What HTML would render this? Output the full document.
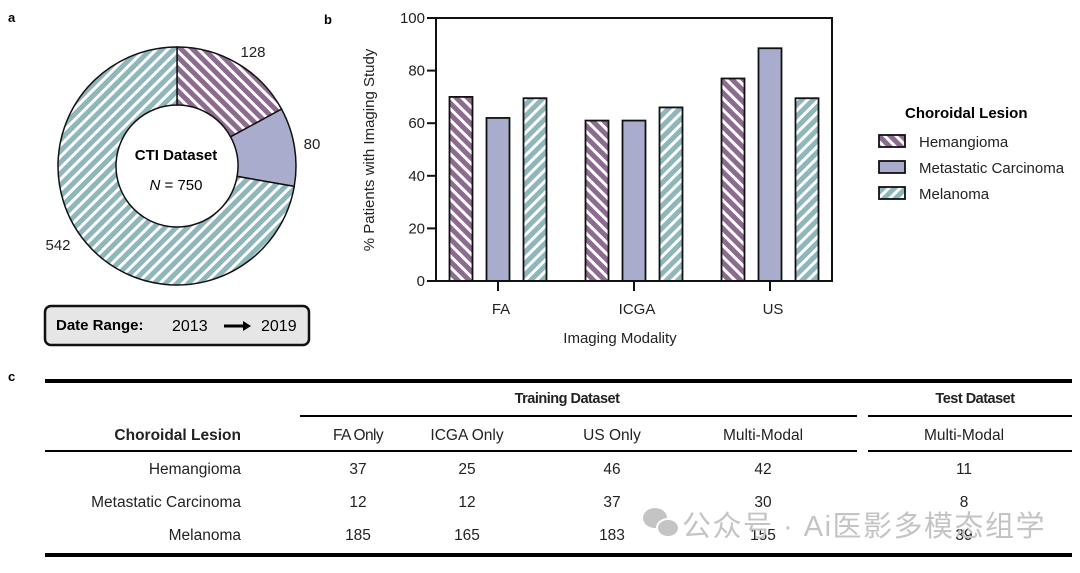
<!DOCTYPE html>
<html><head><meta charset="utf-8"><style>
body{margin:0;background:#fff;width:1080px;height:568px;overflow:hidden;font-family:"Liberation Sans",Arial,sans-serif}
</style></head><body>
<svg width="1080" height="568" xmlns="http://www.w3.org/2000/svg" font-family="Liberation Sans, Noto Sans CJK SC, sans-serif">
<defs>
<pattern id="hemP" patternUnits="userSpaceOnUse" width="8" height="8" patternTransform="rotate(-45)">
<rect width="8" height="8" fill="#8d6a8f"/><rect width="3" height="8" fill="#fff"/></pattern>
<pattern id="melP" patternUnits="userSpaceOnUse" width="8" height="8" patternTransform="rotate(45)">
<rect width="8" height="8" fill="#8fb6ba"/><rect width="3" height="8" fill="#fff"/></pattern>
</defs>
<text x="8" y="22" font-size="13" font-weight="bold">a</text>
<text x="324" y="24" font-size="13" font-weight="bold">b</text>
<text x="8" y="381" font-size="13" font-weight="bold">c</text>
<g id="donut"></g>
<text x="176" y="160" font-size="15" font-weight="bold" text-anchor="middle">CTI Dataset</text>
<text x="176" y="190" font-size="15" text-anchor="middle"><tspan font-style="italic">N</tspan> = 750</text>
<g>
<rect x="45" y="306" width="264" height="39" rx="6" fill="#e6e6e6" stroke="#111" stroke-width="2.5"/>
<text x="56" y="330" font-size="15" font-weight="bold">Date Range:</text>
<text x="172" y="331" font-size="16">2013</text>
<line x1="224" y1="326" x2="244" y2="326" stroke="#000" stroke-width="3"/>
<polygon points="243,321 251,326 243,331" fill="#000"/>
<text x="261" y="331" font-size="16">2019</text>
</g>
<g id="bars"></g>
<g>
<text x="905" y="118" font-size="15" font-weight="bold">Choroidal Lesion</text>
<rect x="879" y="135" width="26" height="12" fill="url(#hemP)" stroke="#111" stroke-width="1.8"/>
<text x="919" y="147" font-size="15" fill="#222">Hemangioma</text>
<rect x="879" y="161" width="26" height="12" fill="#aaaccd" stroke="#111" stroke-width="1.8"/>
<text x="919" y="173" font-size="15" fill="#222">Metastatic Carcinoma</text>
<rect x="879" y="187" width="26" height="12" fill="url(#melP)" stroke="#111" stroke-width="1.8"/>
<text x="919" y="199" font-size="15" fill="#222">Melanoma</text>
</g>
<g font-size="15.5" fill="#222">
<rect x="45" y="379" width="1027" height="4" fill="#000"/>
<text x="567" y="403" text-anchor="middle" font-weight="bold" font-size="14.5" letter-spacing="-0.5">Training Dataset</text>
<text x="975" y="403" text-anchor="middle" font-weight="bold" font-size="14.5" letter-spacing="-0.5">Test Dataset</text>
<rect x="300" y="415" width="557" height="2" fill="#000"/>
<rect x="868" y="415" width="204" height="2" fill="#000"/>
<text x="241" y="440" text-anchor="end" font-weight="bold">Choroidal Lesion</text>
<text x="358" y="440" text-anchor="middle" letter-spacing="-0.6">FA Only</text>
<text x="467" y="440" text-anchor="middle">ICGA Only</text>
<text x="612" y="440" text-anchor="middle">US Only</text>
<text x="763" y="440" text-anchor="middle">Multi-Modal</text>
<text x="964" y="440" text-anchor="middle">Multi-Modal</text>
<rect x="45" y="450" width="812" height="2" fill="#000"/>
<rect x="868" y="450" width="204" height="2" fill="#000"/>
<g id="rows"></g>
<rect x="45" y="553" width="1027" height="4" fill="#000"/>
</g>
<g fill="#c4c4c4">
<ellipse cx="655" cy="518" rx="12" ry="10"/>
<ellipse cx="668" cy="528" rx="11" ry="9" stroke="#fff" stroke-width="2"/>
<text x="682" y="536" font-size="29" letter-spacing="1.5">公众号 · Ai医影多模态组学</text>
</g>
</svg>
<script>
const NS="http://www.w3.org/2000/svg";
// donut data
const donutLabels=["Hemangioma","Metastatic Carcinoma","Melanoma"];
const donutValues=[128,80,542];
// bar data
const barCategories=["FA","ICGA","US"];
const hemValues=[70,61,77];
const metValues=[62,61,88.5];
const melValues=[69.5,66,69.5];
const yTicks=[0,20,40,60,80,100];
// table data
const tableRows=["Hemangioma","Metastatic Carcinoma","Melanoma"];
const faOnly=[37,12,185];
const icgaOnly=[25,12,165];
const usOnly=[46,37,183];
const multiModal=[42,30,155];
const testMulti=[11,8,39];

function mk(tag,attrs,parent){const e=document.createElementNS(NS,tag);for(const k in attrs)e.setAttribute(k,attrs[k]);parent.appendChild(e);return e;}
const fills=["url(#hemP)","#aaaccd","url(#melP)"];

// donut
(function(){
const g=document.getElementById('donut');const cx=177,cy=166,R=119,r=61;
const tot=donutValues.reduce((a,b)=>a+b,0);let a0=0;
donutValues.forEach((v,i)=>{
 const a1=a0+v/tot*2*Math.PI;
 const p=(rad,a)=>[cx+rad*Math.sin(a),cy-rad*Math.cos(a)];
 const large=(a1-a0)>Math.PI?1:0;
 const [x1,y1]=p(R,a0),[x2,y2]=p(R,a1),[x3,y3]=p(r,a1),[x4,y4]=p(r,a0);
 const e=mk('path',{d:`M${x1},${y1}A${R},${R} 0 ${large} 1 ${x2},${y2}L${x3},${y3}A${r},${r} 0 ${large} 0 ${x4},${y4}Z`,fill:fills[i],stroke:'#111','stroke-width':1.5},g);
 
 
 const am=(a0+a1)/2;const lr=R+(i==2?20:18);
 let [lx,ly]=p(lr,am);
 if(i==0){lx=253;ly=57;} if(i==2){lx=58;ly=250;} if(i==1){lx=312;ly=149;}
 const t=mk('text',{x:lx,y:ly,'font-size':15,'text-anchor':'middle',fill:'#222'},g);t.textContent=v;
 
 
 a0=a1;});
})();

// bars
(function(){
const g=document.getElementById('bars');
const x0=436,x1=832,y0=281,y1=18;
const y=v=>y0-(v/100)*(y0-y1);
const centers=[498,634,770];const bw=23,gap=37;
mk('polyline',{points:`${x0},${y1} ${x1},${y1} ${x1},${y0}`,fill:'none',stroke:'#111','stroke-width':2},g);
const series=[hemValues,metValues,melValues];
barCategories.forEach((c,ci)=>{
 series.forEach((s,si)=>{
  const cxb=centers[ci]+(si-1)*gap;
  const b=mk('rect',{x:cxb-bw/2,y:y(s[ci]),width:bw,height:y0-y(s[ci]),fill:fills[si],stroke:'#111','stroke-width':1.8},g);
  
  
 });
 mk('line',{x1:centers[ci],y1:y0,x2:centers[ci],y2:y0+10,stroke:'#111','stroke-width':2},g);
 const t=mk('text',{x:centers[ci]+3,y:y0+33,'font-size':15,'text-anchor':'middle',fill:'#222'},g);t.textContent=c;
 
 
});
mk('line',{x1:x0,y1:y1-1,x2:x0,y2:y0+1,stroke:'#111','stroke-width':2},g);
mk('line',{x1:x0-1,y1:y0,x2:x1+1,y2:y0,stroke:'#111','stroke-width':2},g);
yTicks.forEach(v=>{
 mk('line',{x1:x0-9,y1:y(v),x2:x0,y2:y(v),stroke:'#111','stroke-width':2},g);
 const t=mk('text',{x:x0-11,y:y(v)+5,'font-size':15,'text-anchor':'end',fill:'#222'},g);t.textContent=v;
 
 
});
const yt=mk('text',{x:0,y:0,'font-size':15,'text-anchor':'middle',fill:'#222',transform:`translate(374,150) rotate(-90)`},g);
yt.textContent='% Patients with Imaging Study';


const xt=mk('text',{x:620,y:343,'font-size':15,'text-anchor':'middle',fill:'#222'},g);
xt.textContent='Imaging Modality';


})();

// table rows
(function(){
const g=document.getElementById('rows');
const cols=[[358,faOnly],[467,icgaOnly],[612,usOnly],[763,multiModal],[964,testMulti]];
tableRows.forEach((name,i)=>{
 const yy=474+i*33;
 const t=mk('text',{x:241,y:yy,'text-anchor':'end'},g);t.textContent=name;
 
 
 cols.forEach(([x,arr])=>{const c=mk('text',{x:x,y:yy,'text-anchor':'middle'},g);c.textContent=arr[i];
  
  });
});
})();
</script>
</body></html>
